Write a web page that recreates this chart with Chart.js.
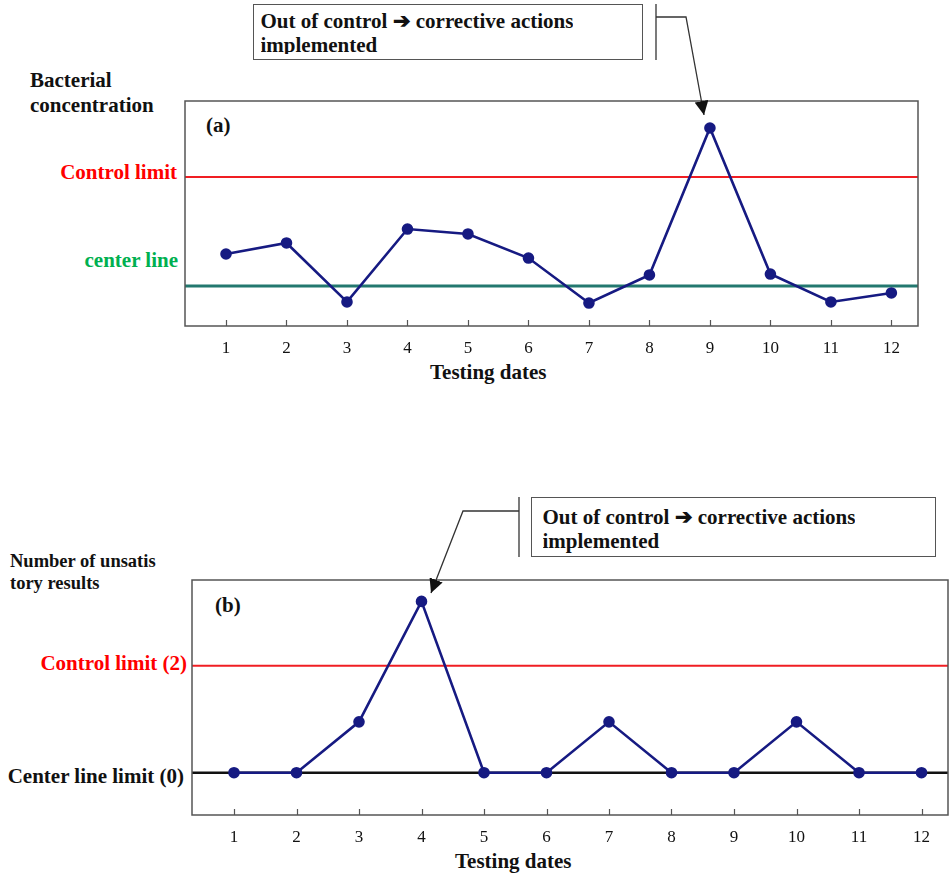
<!DOCTYPE html>
<html>
<head>
<meta charset="utf-8">
<script src="https://cdn.jsdelivr.net/npm/chart.js@4.4.1/dist/chart.umd.min.js"></script>
<style>
  body { margin: 0; background: #fff; }
  #page { position: relative; width: 949px; height: 876px; overflow: hidden;
          font-family: 'Liberation Serif', 'Times New Roman', serif; font-weight: bold; color: #111; }
  .t { position: absolute; white-space: nowrap; line-height: 1; transform: translateY(-50%); }
  .r { text-align: right; }
  canvas { position: absolute; }
  .note { position: absolute; border: 1.5px solid #555; box-sizing: border-box; background: #fff; }
  .note div { position: absolute; overflow: hidden; white-space: nowrap; font-size: 21px; line-height: 24px; }
  svg { position: absolute; left: 0; top: 0; }
</style>
</head>
<body>
<div id="page">
  <!-- chart (a) labels -->
  <div class="t" style="left:30px; top:80px; font-size:21px;">Bacterial</div>
  <div class="t" style="left:30px; top:105px; font-size:21px;">concentration</div>
  <div class="t r" style="right:772px; top:172px; font-size:21px; color:#ff0000;">Control limit</div>
  <div class="t r" style="right:771px; top:260px; font-size:21px; color:#00b050;">center line</div>
  <div class="t" style="left:206px; top:125px; font-size:21px;">(a)</div>
  <div class="t" style="left:430px; top:372px; font-size:21px;">Testing dates</div>
  <div class="note" style="left:253px; top:4px; width:390px; height:56px;">
    <div style="left:6.5px; top:4px; height:45px;">Out of control ➔ corrective actions<br>implemented</div>
  </div>

  <!-- chart (b) labels -->
  <div class="t" style="left:10px; top:561px; font-size:18.5px;">Number of unsatis</div>
  <div class="t" style="left:10px; top:583px; font-size:18.5px;">tory results</div>
  <div class="t r" style="right:762px; top:663px; font-size:21px; color:#ff0000;">Control limit (2)</div>
  <div class="t r" style="right:765px; top:776px; font-size:21px;">Center line limit (0)</div>
  <div class="t" style="left:215px; top:605px; font-size:21px;">(b)</div>
  <div class="t" style="left:455px; top:861px; font-size:21px;">Testing dates</div>
  <div class="note" style="left:531px; top:497px; width:405px; height:60px;">
    <div style="left:10.5px; top:6.5px; height:49px;">Out of control ➔ corrective actions<br>implemented</div>
  </div>

  <canvas id="chartA" width="737" height="267" style="left:183px; top:99px;"></canvas>
  <canvas id="chartB" width="759" height="277" style="left:190px; top:578px;"></canvas>

  <svg width="949" height="876">
    <defs>
      <marker id="ah" viewBox="0 0 10 10" refX="10" refY="5" markerWidth="14" markerHeight="14"
              markerUnits="userSpaceOnUse" orient="auto">
        <path d="M0,0 L10,5 L0,10 z" fill="#111"/>
      </marker>
    </defs>
    <g stroke="#333" stroke-width="1.3" fill="none">
      <line x1="656" y1="4" x2="656" y2="60"/>
      <polyline points="656,17 686,17 704,115" marker-end="url(#ah)"/>
      <line x1="519" y1="497" x2="519" y2="557"/>
      <polyline points="519,511 463,511 431,593" marker-end="url(#ah)"/>
    </g>
  </svg>
</div>

<script>
// testing dates on the x axis
const dates = [1, 2, 3, 4, 5, 6, 7, 8, 9, 10, 11, 12];

// (a) bacterial concentration, arbitrary units
const bacteria = [32.0, 36.9, 10.7, 43.1, 40.9, 30.2, 10.2, 22.7, 88.0, 23.1, 10.7, 14.7];
const bacteriaControl = 66.2;
const bacteriaCenter = 17.8;

// (b) number of unsatisfactory results
const unsatisfactory = [0, 0, 0.95, 3.2, 0, 0, 0.95, 0, 0, 0.95, 0, 0];
const unsatControl = 2;
const unsatCenter = 0;

const navy = '#161a82';

// box around the plot area plus short inward tick marks
const frame = {
  id: 'frame',
  afterDraw(chart, args, opts) {
    const { ctx, chartArea: a } = chart;
    const x = chart.scales.x;
    ctx.save();
    ctx.strokeStyle = opts.color;
    ctx.lineWidth = opts.width;
    ctx.strokeRect(a.left, a.top, a.right - a.left, a.bottom - a.top);
    ctx.lineWidth = 1.2;
    x.ticks.forEach(t => {
      const px = Math.round(x.getPixelForValue(t.value)) + 0.5;
      ctx.beginPath();
      ctx.moveTo(px, a.bottom);
      ctx.lineTo(px, a.bottom - 6);
      ctx.stroke();
    });
    ctx.restore();
  }
};

function controlChart(id, values, limit, center, centerColor, centerWidth, xr, yr, padRight) {
  return new Chart(document.getElementById(id), {
    type: 'line',
    data: {
      datasets: [
        {
          data: dates.map((d, i) => ({ x: d, y: values[i] })),
          borderColor: navy,
          backgroundColor: navy,
          pointBackgroundColor: navy,
          pointBorderColor: navy,
          borderWidth: 2.6,
          pointRadius: 4.5,
          tension: 0,
          order: 0
        },
        {
          data: [{ x: xr[0], y: limit }, { x: xr[1], y: limit }],
          borderColor: '#f01e23',
          borderWidth: 2,
          pointRadius: 0,
          order: 1
        },
        {
          data: [{ x: xr[0], y: center }, { x: xr[1], y: center }],
          borderColor: centerColor,
          borderWidth: centerWidth,
          pointRadius: 0,
          order: 1
        }
      ]
    },
    options: {
      responsive: false,
      animation: false,
      layout: { autoPadding: false, padding: { top: 2, left: 2, right: padRight, bottom: 0 } },
      plugins: {
        legend: { display: false },
        tooltip: { enabled: false },
        frame: { color: '#555', width: 1.5 }
      },
      scales: {
        x: {
          type: 'linear',
          min: xr[0],
          max: xr[1],
          afterBuildTicks: s => { s.ticks = dates.map(v => ({ value: v })); },
          afterFit: s => { s.height = 40; },
          grid: { display: false, drawTicks: false },
          border: { display: false },
          ticks: {
            padding: 12,
            autoSkip: false,
            maxRotation: 0,
            color: '#111',
            font: { family: 'Liberation Serif', size: 17 },
            callback: v => String(v)
          }
        },
        y: { display: false, min: yr[0], max: yr[1] }
      }
    },
    plugins: [frame]
  });
}

controlChart('chartA', bacteria, bacteriaControl, bacteriaCenter, '#23786f', 3, [0.322, 12.44], [0, 100], 2);
controlChart('chartB', unsatisfactory, unsatControl, unsatCenter, '#111', 2.4, [0.328, 12.424], [-0.79, 3.6], 1);
</script>
</body>
</html>
